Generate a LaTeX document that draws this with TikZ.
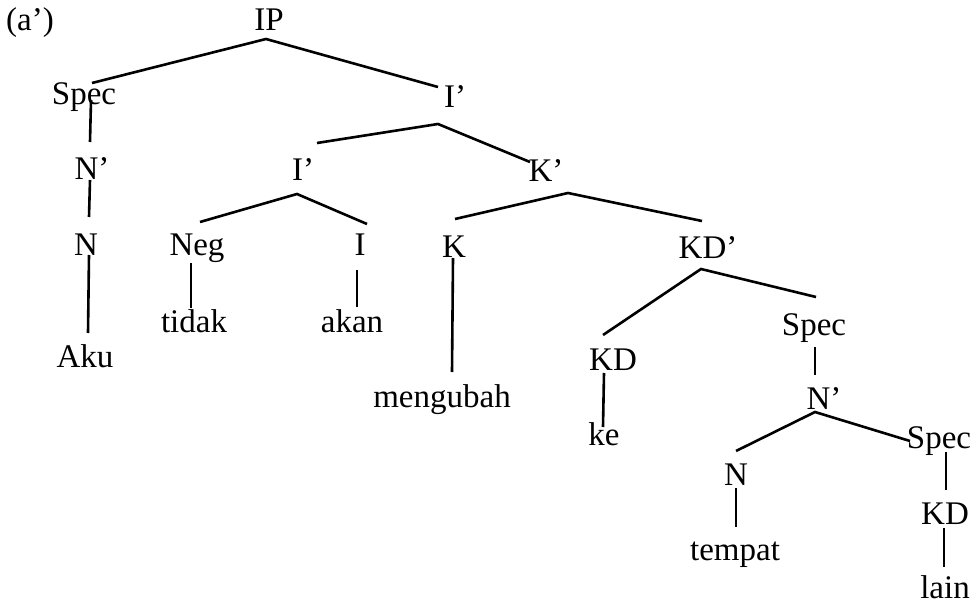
\documentclass[tikz,border=0pt]{standalone}
\usepackage{fontspec}
\setmainfont{Liberation Serif}
\usetikzlibrary{calc}
\begin{document}
\begin{tikzpicture}[x=1pt,y=-1pt,
  tn/.style={inner sep=0pt, anchor=base, font=\fontsize{33}{38}\selectfont},
  br/.style={line width=2.6pt}]
\useasboundingbox (0,0) rectangle (974,604);
\node[tn] (lab) at (30,31) {(a’)};
\node[tn] (IP) at (269,31) {IP};
\node[tn] (Spec1) at (84,105) {Spec};
\node[tn] (I1) at (455,108) {I’};
\node[tn] (Nb1) at (92,180) {N’};
\node[tn] (I2) at (303,181) {I’};
\node[tn] (Kb) at (546,182) {K’};
\node[tn] (N1) at (86,255) {N};
\node[tn] (Neg) at (197,255) {Neg};
\node[tn] (I3) at (360,255) {I};
\node[tn] (K) at (454,257) {K};
\node[tn] (KDb) at (708,258) {KD’};
\node[tn] (tidak) at (194,332) {tidak};
\node[tn] (akan) at (352,332) {akan};
\node[tn] (Spec2) at (814,335) {Spec};
\node[tn] (Aku) at (85,367) {Aku};
\node[tn] (KD1) at (613,370) {KD};
\node[tn] (meng) at (442,407) {mengubah};
\node[tn] (Nb2) at (824,409) {N’};
\node[tn] (ke) at (604,445) {ke};
\node[tn] (Spec3) at (939,448) {Spec};
\node[tn] (N2) at (736,485) {N};
\node[tn] (KD2) at (945,524) {KD};
\node[tn] (tempat) at (735,560) {tempat};
\node[tn] (lain) at (945,598) {lain};

\draw[br] ($(Spec1.base)+(8,-22)$) -- ($(IP.base)+(-3,8)$) -- ($(I1.base)+(-17,-21)$);
\draw[br] ($(Spec1.base)+(7,-5)$) -- ($(Nb1.base)+(-2,-38)$);
\draw[br] ($(I2.base)+(14,-38)$) -- ($(I1.base)+(-17,16)$) -- ($(Kb.base)+(-16,-20)$);
\draw[br] ($(Nb1.base)+(-2,0)$) -- ($(N1.base)+(3,-38)$);
\draw[br] ($(Neg.base)+(3,-33)$) -- ($(I2.base)+(-6,13)$) -- ($(I3.base)+(7,-31)$);
\draw[br] ($(K.base)+(1,-38)$) -- ($(Kb.base)+(22,11)$) -- ($(KDb.base)+(-6,-37)$);
\draw[br] ($(N1.base)+(3,0)$) -- ($(Aku.base)+(3,-34)$);
\draw[br] ($(Neg.base)+(-6,8)$) -- ($(tidak.base)+(-3,-24)$);
\draw[br] ($(I3.base)+(-3,15)$) -- ($(akan.base)+(5,-25)$);
\draw[br] ($(K.base)+(-1,1)$) -- ($(meng.base)+(10,-35)$);
\draw[br] ($(KD1.base)+(-10,-35)$) -- ($(KDb.base)+(-7,11)$) -- ($(Spec2.base)+(2,-38)$);
\draw[br] ($(Spec2.base)+(1,12)$) -- ($(Nb2.base)+(-9,-34)$);
\draw[br] ($(KD1.base)+(-9,3)$) -- ($(ke.base)+(-1,-18)$);
\draw[br] ($(N2.base)+(0,-34)$) -- ($(Nb2.base)+(-9,3)$) -- ($(Spec3.base)+(-29,-7)$);
\draw[br] ($(N2.base)+(0,3)$) -- ($(tempat.base)+(1,-33)$);
\draw[br] ($(Spec3.base)+(7,4)$) -- ($(KD2.base)+(1,-34)$);
\draw[br] ($(KD2.base)+(-1,4)$) -- ($(lain.base)+(-1,-31)$);
\end{tikzpicture}
\end{document}
